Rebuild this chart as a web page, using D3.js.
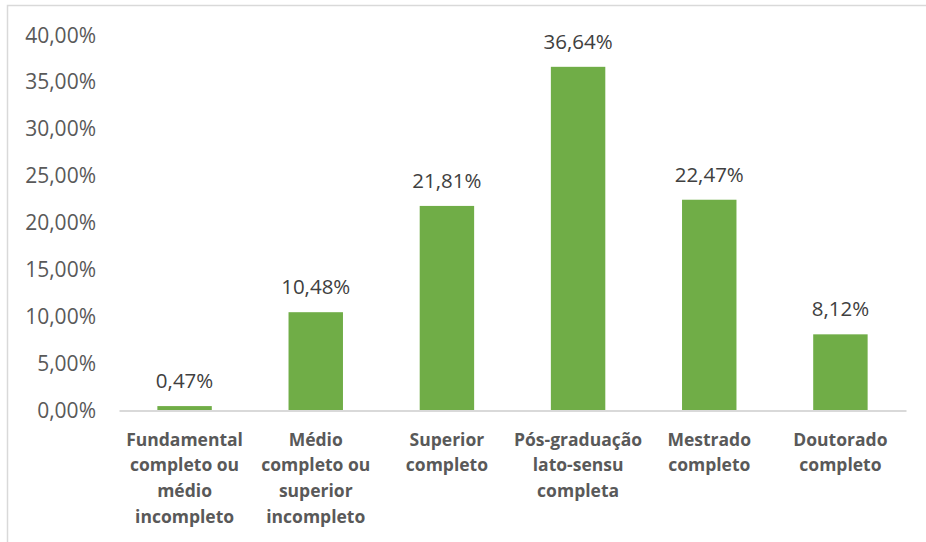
<!DOCTYPE html>
<html>
<head>
<meta charset="utf-8">
<script src="https://cdn.jsdelivr.net/npm/d3@7"></script>
<style>
  html, body { margin: 0; padding: 0; background: #ffffff; }
  svg { display: block; }
</style>
</head>
<body>
<svg id="chart" width="926" height="542"></svg>
<script>
// Escolaridade: share of respondents per education level
const categories = [
  "Fundamental completo ou médio incompleto",
  "Médio completo ou superior incompleto",
  "Superior completo",
  "Pós-graduação lato-sensu completa",
  "Mestrado completo",
  "Doutorado completo"
];
// How each category name breaks into lines under the axis
const categoryLines = [
  ["Fundamental", "completo ou", "médio", "incompleto"],
  ["Médio", "completo ou", "superior", "incompleto"],
  ["Superior", "completo"],
  ["Pós-graduação", "lato-sensu", "completa"],
  ["Mestrado", "completo"],
  ["Doutorado", "completo"]
];
const values = [0.47, 10.48, 21.81, 36.64, 22.47, 8.12];
const yTicks = [0, 5, 10, 15, 20, 25, 30, 35, 40];

const W = 926, H = 542;
const margin = { top: 35.3, right: 20, bottom: 131.5, left: 119 };
const plotRight = 906;

const svg = d3.select("#chart");

// outer chart frame (only top and left edges fall inside the canvas)
svg.append("rect")
  .attr("x", 7.5).attr("y", 5.5)
  .attr("width", 1000).attr("height", 1000)
  .attr("fill", "none")
  .attr("stroke", "#d9d9d9")
  .attr("stroke-width", 1.5);

const x = d3.scaleBand()
  .domain(categories)
  .range([margin.left, plotRight])
  .paddingInner(0.585)
  .paddingOuter(0.2925);

const y = d3.scaleLinear()
  .domain([0, 40])
  .range([H - margin.bottom, margin.top]);

const fmt = v => d3.format(".2f")(v).replace(".", ",") + "%";
const FONT = "'Open Sans', sans-serif";

// y axis labels (no axis line, no ticks)
const yAxis = d3.axisLeft(y).tickValues(yTicks).tickFormat(fmt).tickSize(0).tickPadding(0);
const gy = svg.append("g")
  .attr("transform", `translate(96,0)`)
  .call(yAxis);
gy.select(".domain").remove();
gy.selectAll("text")
  .attr("font-family", FONT)
  .attr("font-size", "21px")
  .attr("fill", "#595959");

// bars
svg.append("g").selectAll("rect")
  .data(values)
  .join("rect")
  .attr("x", (d, i) => x(categories[i]))
  .attr("y", d => y(d))
  .attr("width", x.bandwidth())
  .attr("height", d => y(0) - y(d))
  .attr("fill", "#70ad47");

// value labels
svg.append("g").selectAll("text")
  .data(values)
  .join("text")
  .attr("x", (d, i) => x(categories[i]) + x.bandwidth() / 2)
  .attr("y", d => y(d) - 18)
  .attr("text-anchor", "middle")
  .attr("font-family", FONT)
  .attr("font-size", "20.5px")
  .attr("fill", "#404040")
  .text(d => fmt(d));

// category axis
const xAxis = d3.axisBottom(x).tickSize(0).tickFormat("");
const gx = svg.append("g")
  .attr("transform", `translate(0,${y(0)})`)
  .call(xAxis);
gx.select(".domain")
  .attr("stroke", "#d9d9d9")
  .attr("stroke-width", 2);

const labels = svg.append("g");
categories.forEach((c, i) => {
  const t = labels.append("text")
    .attr("text-anchor", "middle")
    .attr("font-family", FONT)
    .attr("font-weight", "bold")
    .attr("font-size", "17.5px")
    .attr("fill", "#595959");
  categoryLines[i].forEach((line, j) => {
    t.append("tspan")
      .attr("x", x(c) + x.bandwidth() / 2)
      .attr("y", y(0) + 35 + j * 25.8)
      .text(line);
  });
});
</script>
</body>
</html>
